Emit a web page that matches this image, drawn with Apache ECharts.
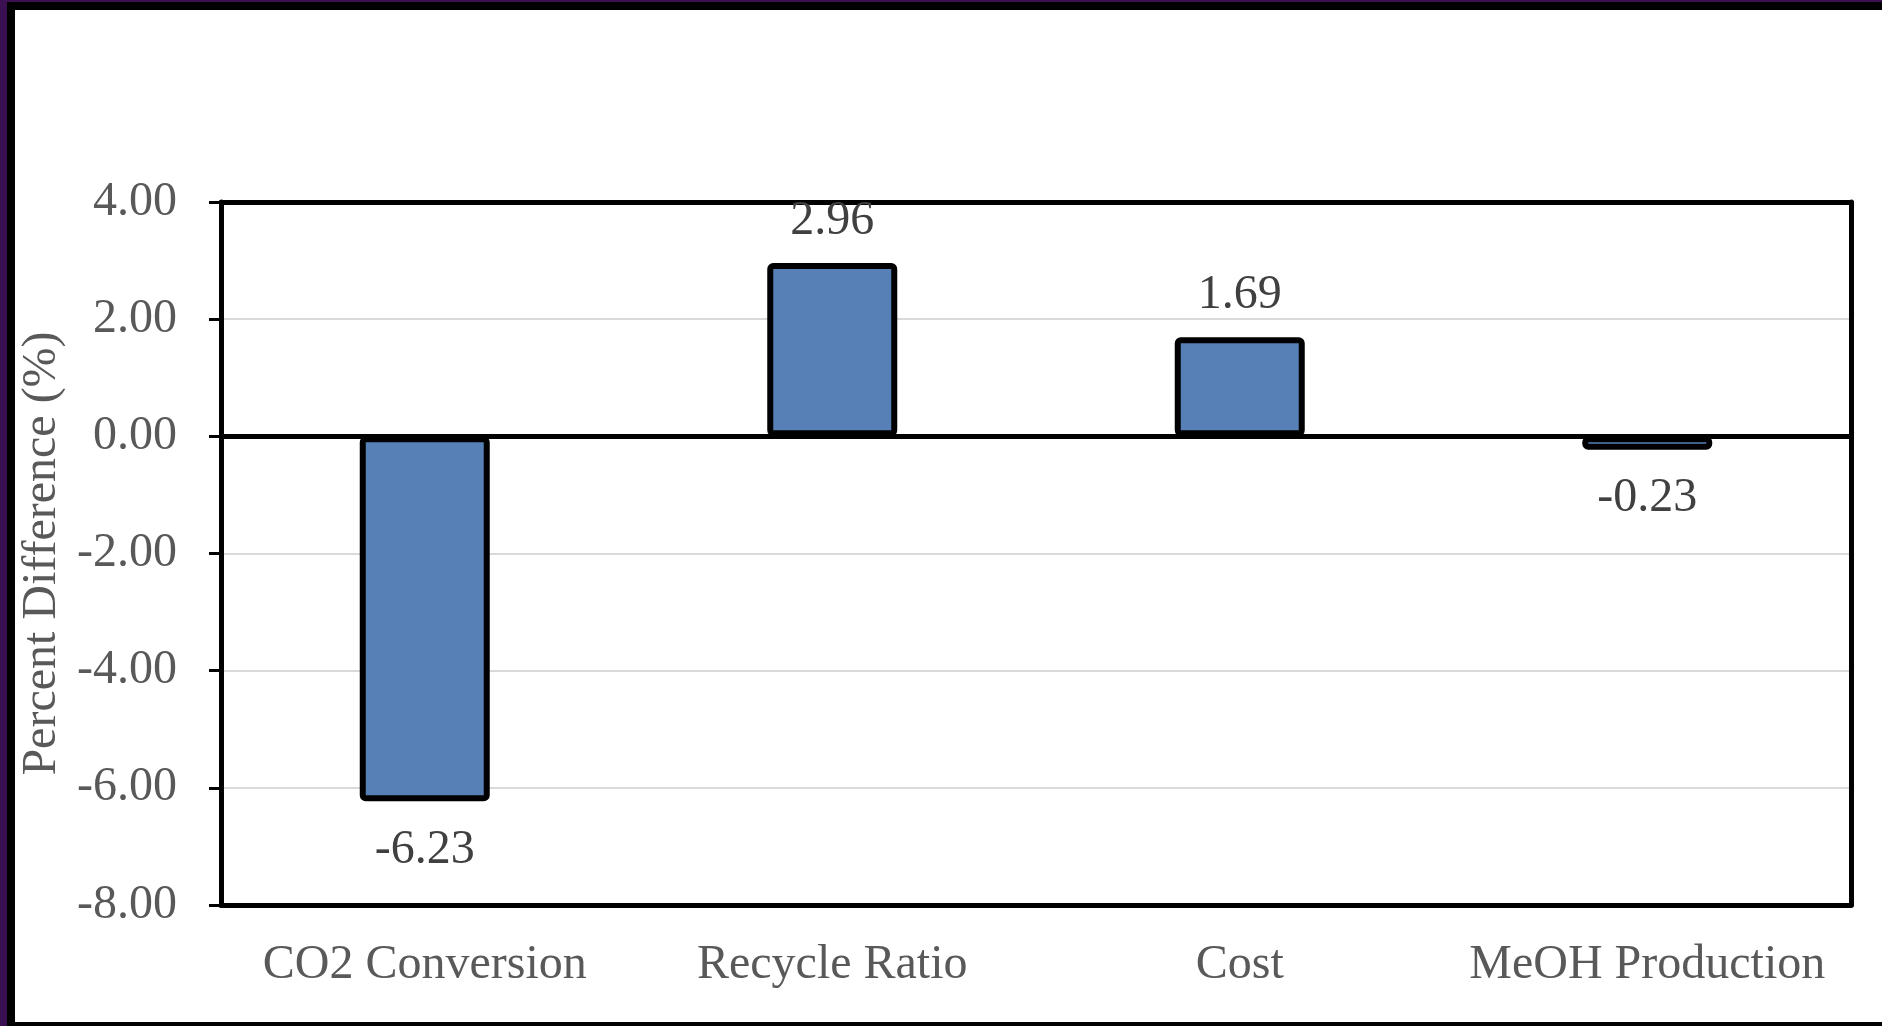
<!DOCTYPE html>
<html>
<head>
<meta charset="utf-8">
<script src="https://cdn.jsdelivr.net/npm/echarts@6/dist/echarts.min.js"></script>
<style>
  html, body { margin: 0; padding: 0; background: #ffffff; overflow: hidden; }
  #chart { position: absolute; left: 0; top: 0; width: 1882px; height: 1026px; }
  .edge { position: absolute; }
</style>
</head>
<body>
<div id="chart"></div>
<!-- slide frame around the chart -->
<div class="edge" style="left:0;top:0;width:7px;height:1026px;background:#3a1052;"></div>
<div class="edge" style="left:0;top:0;width:1882px;height:2px;background:#3a1052;"></div>
<div class="edge" style="left:7px;top:2px;width:8px;height:1024px;background:#000;"></div>
<div class="edge" style="left:7px;top:2px;width:1875px;height:8px;background:#000;"></div>
<div class="edge" style="left:7px;top:1022px;width:1875px;height:4px;background:#000;"></div>
<script>
const categories = ['CO2 Conversion', 'Recycle Ratio', 'Cost', 'MeOH Production'];
const percentDiff = [-6.23, 2.96, 1.69, -0.23];
const yMin = -8;
const yMax = 4;
const yStep = 2;

const serif = "'Liberation Serif', 'Times New Roman', serif";
const frameLine = { show: true, onZero: false, lineStyle: { color: '#000', width: 5 } };

const chart = echarts.init(document.getElementById('chart'), null, { renderer: 'canvas' });

chart.setOption({
  backgroundColor: 'transparent',
  animation: false,
  grid: { left: 221, top: 202, right: 31, bottom: 121, show: false },
  xAxis: [
    {
      // bottom edge of the plot box, with category names
      type: 'category',
      data: categories,
      position: 'bottom',
      axisLine: frameLine,
      axisTick: { show: false },
      axisLabel: { interval: 0, color: '#595959', fontFamily: serif, fontSize: 48, margin: 36 }
    },
    {
      // top edge of the plot box
      type: 'category',
      data: categories,
      position: 'top',
      axisLine: frameLine,
      axisTick: { show: false },
      axisLabel: { show: false }
    },
    {
      // zero reference line
      type: 'category',
      data: categories,
      axisLine: { show: true, onZero: true, lineStyle: { color: '#000', width: 5 } },
      axisTick: { show: false },
      axisLabel: { show: false }
    }
  ],
  yAxis: [
    {
      type: 'value',
      min: yMin, max: yMax, interval: yStep,
      position: 'left',
      name: 'Percent Difference (%)',
      nameLocation: 'middle',
      nameRotate: 90,
      nameGap: 142,
      nameTextStyle: { color: '#595959', fontFamily: serif, fontSize: 48 },
      axisLine: frameLine,
      axisTick: { show: true, inside: false, length: 12, lineStyle: { color: '#000', width: 3 } },
      axisLabel: {
        color: '#595959', fontFamily: serif, fontSize: 48, margin: 44,
        formatter: v => v.toFixed(2)
      },
      splitLine: { show: true, lineStyle: { color: '#d9d9d9', width: 2 } }
    },
    {
      // right edge of the plot box
      type: 'value',
      min: yMin, max: yMax, interval: yStep,
      position: 'right',
      axisLine: frameLine,
      axisTick: { show: false },
      axisLabel: { show: false },
      splitLine: { show: false }
    }
  ],
  series: [{
    type: 'bar',
    xAxisIndex: 0,
    yAxisIndex: 0,
    barWidth: 130,
    data: percentDiff.map(v => ({
      value: v,
      label: { position: v < 0 ? 'bottom' : 'top', distance: v < 0 ? 25 : 18 }
    })),
    itemStyle: { color: '#5780b7', borderColor: '#000', borderWidth: 6, borderRadius: 3 },
    label: {
      show: true,
      color: '#404040', fontFamily: serif, fontSize: 48,
      formatter: p => p.value.toFixed(2)
    }
  }]
});
</script>
</body>
</html>
